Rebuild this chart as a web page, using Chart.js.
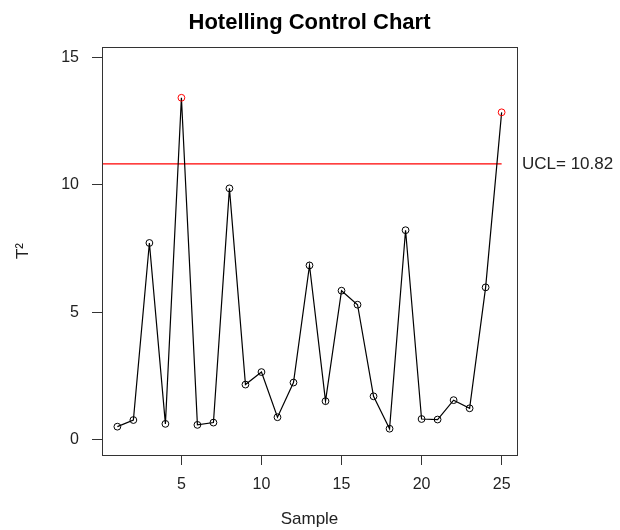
<!DOCTYPE html>
<html>
<head>
<meta charset="utf-8">
<title>Hotelling Control Chart</title>
<script src="https://cdn.jsdelivr.net/npm/chart.js@4/dist/chart.umd.min.js"></script>
<style>
  html, body { margin: 0; padding: 0; background: #fff; }
  #chart { display: block; }
</style>
</head>
<body>
<canvas id="chart" width="620" height="530"></canvas>
<script>
// sample numbers and T2 values
const samples = [1, 2, 3, 4, 5, 6, 7, 8, 9, 10, 11, 12, 13, 14, 15, 16, 17, 18, 19, 20, 21, 22, 23, 24, 25];
const t2Values = [0.52, 0.78, 7.72, 0.63, 13.41, 0.59, 0.68, 9.86, 2.17, 2.66, 0.89, 2.25, 6.84,
                  1.52, 5.85, 5.30, 1.71, 0.44, 8.22, 0.82, 0.80, 1.56, 1.24, 5.98, 12.84];
const ucl = 10.82;
const xTicks = [5, 10, 15, 20, 25];
const yTicks = [0, 5, 10, 15];

const FONT = "'Liberation Sans', Arial, Helvetica, sans-serif";
const TEXT = '#222';

// point colours: red when above the UCL
function pointColors(values) {
  return values.map(v => v > ucl ? '#ff0000' : '#000000');
}

// box around the plotting region, title over the box, UCL label
const boxPlugin = {
  id: 'rbox',
  afterDraw(chart) {
    const { ctx, chartArea } = chart;
    ctx.save();
    ctx.strokeStyle = '#333';
    ctx.lineWidth = 1;
    ctx.strokeRect(chartArea.left + 0.5, chartArea.top + 0.5,
                   chartArea.right - chartArea.left, chartArea.bottom - chartArea.top);

    // title centred over the plot box (like R does)
    ctx.fillStyle = '#000';
    ctx.font = 'bold 22px ' + FONT;
    ctx.textAlign = 'center';
    ctx.textBaseline = 'middle';
    ctx.fillText('Hotelling Control Chart', (chartArea.left + chartArea.right) / 2, 23);

    const y = chart.scales.y.getPixelForValue(ucl);
    ctx.fillStyle = TEXT;
    ctx.font = '17px ' + FONT;
    ctx.textAlign = 'left';
    ctx.fillText('UCL= ' + ucl.toFixed(2), chartArea.right + 5, y);
    ctx.restore();
  }
};

const xMin = 0.04, xMax = 25.96;

new Chart(document.getElementById('chart'), {
  type: 'line',
  data: {
    datasets: [
      {
        label: 'T2',
        data: samples.map((s, i) => ({ x: s, y: t2Values[i] })),
        borderColor: '#000',
        borderWidth: 1.2,
        pointRadius: 3.4,
        pointBorderWidth: 1,
        pointBorderColor: pointColors(t2Values),
        pointBackgroundColor: 'rgba(0,0,0,0)',
        tension: 0
      },
      {
        label: 'UCL',
        data: [{ x: xMin, y: ucl }, { x: samples[samples.length - 1], y: ucl }],
        borderColor: '#ff0000',
        borderWidth: 1.2,
        pointRadius: 0
      }
    ]
  },
  options: {
    responsive: false,
    animation: false,
    layout: { padding: { left: 0, right: 103, top: 47, bottom: 0 } },
    plugins: {
      legend: { display: false },
      tooltip: { enabled: false },
      title: { display: false }
    },
    scales: {
      x: {
        type: 'linear',
        min: xMin,
        max: xMax,
        afterBuildTicks: scale => { scale.ticks = xTicks.map(v => ({ value: v })); },
        afterFit: scale => { scale.height = 75; },
        border: { display: false },
        grid: { drawOnChartArea: false, drawTicks: true, tickLength: 10, color: '#333' },
        ticks: { color: TEXT, font: { family: FONT, size: 16 }, padding: 10, maxRotation: 0 },
        title: {
          display: true,
          text: 'Sample',
          color: TEXT,
          font: { family: FONT, size: 17 },
          padding: { top: 0, bottom: 0 }
        }
      },
      y: {
        min: -0.59,
        max: 15.4,
        afterBuildTicks: scale => { scale.ticks = yTicks.map(v => ({ value: v })); },
        afterFit: scale => { scale.width = 102; },
        border: { display: false },
        grid: { drawOnChartArea: false, drawTicks: true, tickLength: 10, color: '#333' },
        ticks: { color: TEXT, font: { family: FONT, size: 16 }, padding: 13 },
        title: {
          display: true,
          text: 'T²',
          color: TEXT,
          font: { family: FONT, size: 17 },
          padding: { top: 13, bottom: 0 }
        }
      }
    }
  },
  plugins: [boxPlugin]
});
</script>
</body>
</html>
